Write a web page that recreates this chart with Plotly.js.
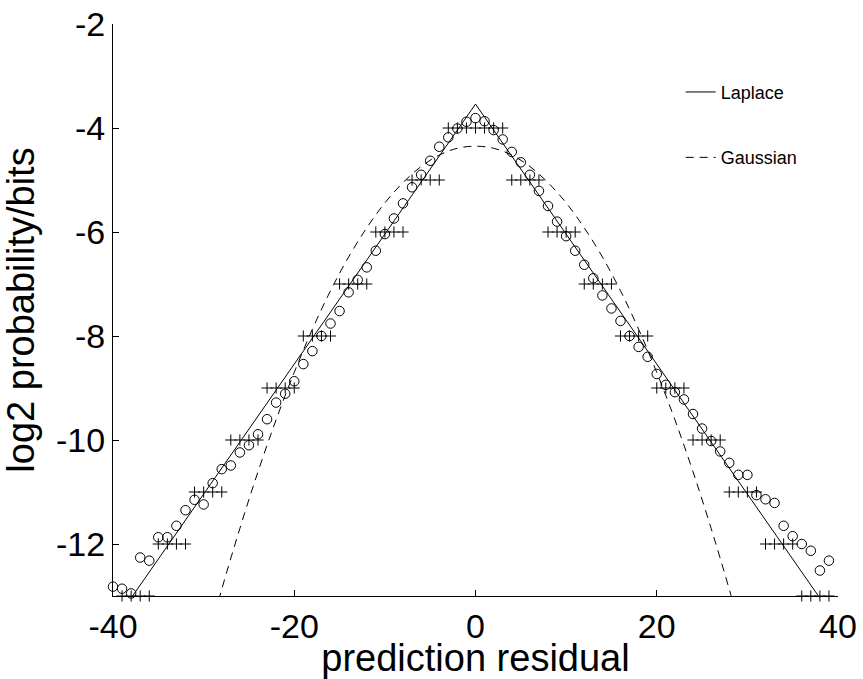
<!DOCTYPE html>
<html>
<head>
<meta charset="utf-8">
<script src="https://cdn.plot.ly/plotly-3.0.1.min.js"></script>
<style>html,body{margin:0;padding:0;background:#fff;}</style>
</head>
<body>
<div id="chart" style="width:863px;height:679px;"></div>
<script>
// Observed residual histogram (log2 probability), one circle per integer residual
const residualX = [-40,-39,-38,-37,-36,-35,-34,-33,-32,-31,-30,-29,-28,-27,-26,-25,-24,-23,-22,-21,
  -20,-19,-18,-17,-16,-15,-14,-13,-12,-11,-10,-9,-8,-7,-6,-5,-4,-3,-2,-1,
  0,1,2,3,4,5,6,7,8,9,10,11,12,13,14,15,16,17,18,19,
  20,21,22,23,24,25,26,27,28,29,30,31,32,33,34,35,36,37,38,39];
const observedY = [-12.82,-12.86,-12.95,-12.26,-12.32,-11.87,-11.87,-11.65,-11.35,-11.15,-11.24,-10.83,-10.56,-10.49,-10.24,-10.10,-9.89,-9.60,-9.28,-9.11,
  -8.87,-8.54,-8.29,-8.00,-7.76,-7.52,-7.16,-6.92,-6.68,-6.36,-6.04,-5.74,-5.45,-5.14,-4.90,-4.63,-4.36,-4.18,-4.01,-3.88,
  -3.81,-3.87,-4.04,-4.22,-4.46,-4.66,-4.90,-5.21,-5.50,-5.80,-6.08,-6.36,-6.63,-6.89,-7.22,-7.47,-7.71,-8.00,-8.21,-8.40,
  -8.73,-8.94,-9.08,-9.22,-9.50,-9.78,-10.02,-10.22,-10.44,-10.67,-10.67,-11.06,-11.14,-11.21,-11.65,-11.85,-12.00,-12.13,-12.51,-12.32];

// Integer code lengths (plus marks)
const codeX = [-39,-38,-37,-36,-35,-34,-33,-32,-31,-30,-29,-28,-27,-26,-25,-24,-23,-22,-21,-20,
  -19,-18,-17,-16,-15,-14,-13,-12,-11,-10,-9,-8,-7,-6,-5,-4,-3,-2,-1,
  0,1,2,3,4,5,6,7,8,9,10,11,12,13,14,15,16,17,18,19,
  20,21,22,23,24,25,26,27,28,29,30,31,32,33,34,35,36,37,38,39];
const codeY = [-13,-13,-13,-13,-12,-12,-12,-12,-11,-11,-11,-11,-10,-10,-10,-10,-9,-9,-9,-9,
  -8,-8,-8,-8,-7,-7,-7,-7,-6,-6,-6,-6,-5,-5,-5,-5,-4,-4,-4,
  -4,-4,-4,-4,-5,-5,-5,-5,-6,-6,-6,-6,-7,-7,-7,-7,-8,-8,-8,-8,
  -9,-9,-9,-9,-10,-10,-10,-10,-11,-11,-11,-11,-12,-12,-12,-12,-13,-13,-13,-13];

// Laplace model (straight lines in log space)
const laplaceX = [-40, 0, 40];
const laplaceY = [-13.54, -3.54, -13.54];

// Gaussian model
const gaussX = [-30,-28,-26,-24,-22,-20,-18,-16,-14,-12,-10,-8,-6,-4,-2,0,2,4,6,8,10,12,14,16,18,20,22,24,26,28,30];
const gaussY = [-14.13,-12.87,-11.70,-10.61,-9.61,-8.70,-7.87,-7.13,-6.48,-5.92,-5.44,-5.05,-4.74,-4.52,-4.39,-4.35,
  -4.39,-4.52,-4.74,-5.05,-5.44,-5.92,-6.48,-7.13,-7.87,-8.70,-9.61,-10.61,-11.70,-12.87,-14.13];

const xTicks = [-40,-20,0,20,40];
const xTickText = ['-40','-20','0','20','40'];
const yTicks = [-12,-10,-8,-6,-4,-2];
const yTickText = ['-12','-10','-8','-6','-4','-2'];

const FONT = 'Liberation Sans, Arial, Helvetica, sans-serif';

const traces = [
  {x: residualX, y: observedY, type: 'scatter', mode: 'markers', showlegend: false, cliponaxis: false,
   marker: {symbol: 'circle-open', size: 9.5, color: '#000', line: {width: 1, color: '#000'}}},
  {x: codeX, y: codeY, type: 'scatter', mode: 'markers', showlegend: false, cliponaxis: false,
   marker: {symbol: 'cross-thin-open', size: 8, color: '#000', line: {width: 1, color: '#000'}}},
  {x: laplaceX, y: laplaceY, type: 'scatter', mode: 'lines', name: 'Laplace', legendgroup: 'L',
   line: {color: '#000', width: 1}},
  {x: gaussX, y: gaussY, type: 'scatter', mode: 'lines', name: 'Gaussian', legendgroup: 'G',
   line: {color: '#000', width: 1, dash: '8px,6px', shape: 'spline'}}
];

const layout = {
  width: 863, height: 679,
  margin: {l: 113, r: 25, t: 24, b: 83},
  paper_bgcolor: '#fff', plot_bgcolor: '#fff',
  font: {family: FONT, color: '#000'},
  showlegend: true,
  legend: {x: 0.783, y: 0.913, xanchor: 'left', yanchor: 'top', bgcolor: 'rgba(0,0,0,0)',
    borderwidth: 0, font: {size: 18, family: FONT, color: '#000'}, traceorder: 'grouped',
    tracegroupgap: 39, itemwidth: 30},
  xaxis: {range: [-40, 40], tickvals: xTicks, ticktext: xTickText, ticks: 'inside', ticklen: 6, tickwidth: 1, tickcolor: '#000',
    showline: true, linecolor: '#000', linewidth: 1, showgrid: false, zeroline: false, mirror: false,
    tickfont: {size: 34, family: FONT, color: '#000'},
    title: {text: 'prediction residual', font: {size: 38, family: FONT, color: '#000'}, standoff: 14}},
  yaxis: {range: [-13, -2], tickvals: yTicks, ticktext: yTickText, ticks: 'inside', ticklen: 6, tickwidth: 1, tickcolor: '#000',
    showline: true, linecolor: '#000', linewidth: 1, showgrid: false, zeroline: false, mirror: false,
    tickfont: {size: 34, family: FONT, color: '#000'},
    title: {text: 'log2 probability/bits', font: {size: 38, family: FONT, color: '#000'}, standoff: 11}}
};

Plotly.newPlot('chart', traces, layout, {displayModeBar: false, staticPlot: true});
</script>
</body>
</html>
